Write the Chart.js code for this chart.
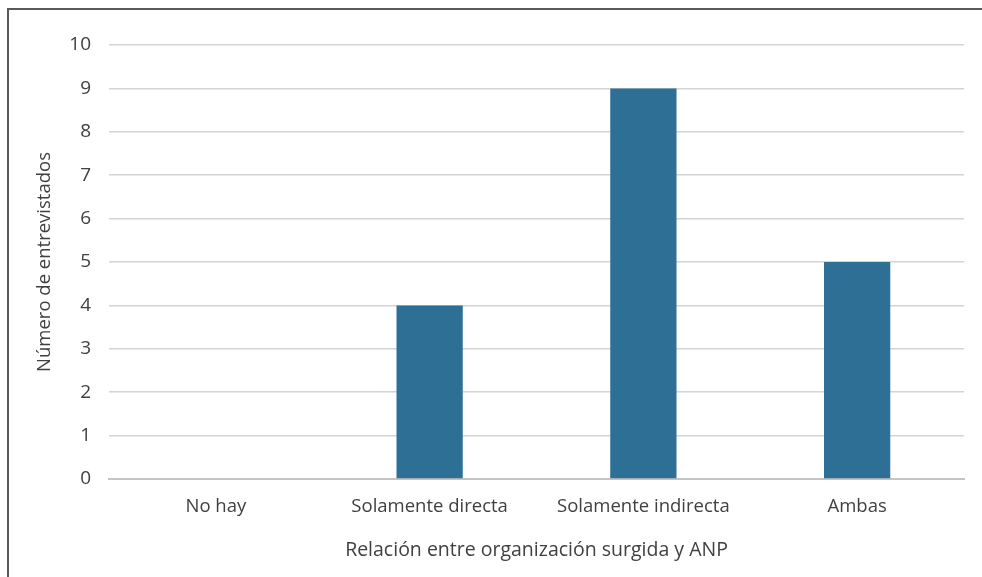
<!DOCTYPE html>
<html>
<head>
<meta charset="utf-8">
<script src="https://cdn.jsdelivr.net/npm/chart.js@4"></script>
<style>
  body { margin: 0; background: #fff; }
  #wrap { position: relative; width: 982px; height: 577px; }
  #frame {
    position: absolute; left: 7px; top: 8px; right: -5px; bottom: -5px;
    border-left: 2px solid #595959; border-top: 2px solid #595959;
    pointer-events: none;
  }
</style>
</head>
<body>
<div id="wrap">
  <canvas id="barChart" width="982" height="577"></canvas>
  <div id="frame"></div>
</div>
<script>
// Chart data
const categories = ['No hay', 'Solamente directa', 'Solamente indirecta', 'Ambas'];
const interviewees = [0, 4, 9, 5];
const yTicks = [0, 1, 2, 3, 4, 5, 6, 7, 8, 9, 10];

const textColor = '#404040';
const fontFamily = '"Open Sans", "Noto Sans", sans-serif';

const ctx = document.getElementById('barChart').getContext('2d');
const myBarChart = new Chart(ctx, {
    type: 'bar',
    data: {
        labels: categories,
        datasets: [{
            label: 'Número de entrevistados',
            data: interviewees,
            backgroundColor: '#2E6F96',
            barPercentage: 0.31,
            categoryPercentage: 1.0
        }]
    },
    options: {
        responsive: false,
        animation: false,
        layout: {
            padding: { left: 30, right: 18, top: 45, bottom: 0 }
        },
        plugins: {
            legend: { display: false },
            tooltip: { enabled: false }
        },
        scales: {
            x: {
                grid: { display: false, drawTicks: false },
                border: { color: '#c4c4c4', width: 2 },
                ticks: {
                    color: textColor,
                    font: { family: fontFamily, size: 18.5 },
                    padding: 17
                },
                title: {
                    display: true,
                    text: 'Relación entre organización surgida y ANP',
                    color: textColor,
                    font: { family: fontFamily, size: 19.5 },
                    padding: { top: 4, bottom: 15 }
                },
                afterFit: function(scale) { scale.height = 98; }
            },
            y: {
                min: 0,
                max: 10,
                afterBuildTicks: function(scale) {
                    scale.ticks = yTicks.map(v => ({ value: v }));
                },
                grid: { color: '#d4d4d4', lineWidth: 1.5, drawTicks: false },
                border: { display: false },
                ticks: {
                    color: textColor,
                    font: { family: fontFamily, size: 19 },
                    padding: 18
                },
                title: {
                    display: true,
                    text: 'Número de entrevistados',
                    color: textColor,
                    font: { family: fontFamily, size: 18.5 },
                    padding: 4
                },
                afterFit: function(scale) { scale.width = 79; }
            }
        }
    }
});
</script>
</body>
</html>
